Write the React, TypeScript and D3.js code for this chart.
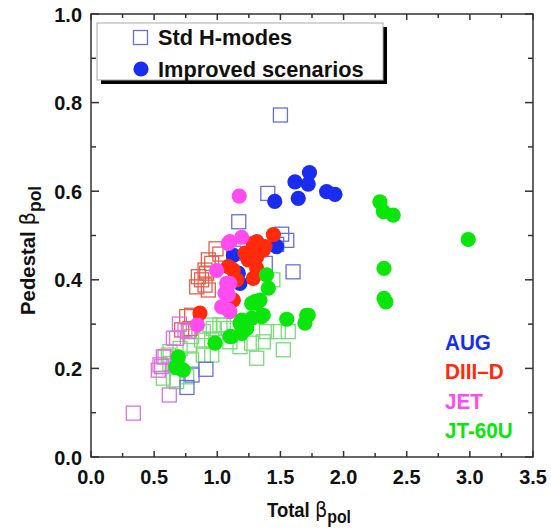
import React from 'react';
import * as d3 from 'd3';

// pedestal vs total beta_pol, per device, std H-modes (open squares) and improved scenarios (dots)
type Pt = [number, number];

const augStd: Pt[] = [
    [1.50, 0.772], [1.40, 0.595], [1.17, 0.531], [1.51, 0.503], [1.55, 0.489], [1.60, 0.418],
    [1.38, 0.437], [1.13, 0.46], [1.47, 0.48], [0.91, 0.198], [0.80, 0.185], [0.76, 0.157],
];
const augImp: Pt[] = [
    [1.73, 0.642], [1.615, 0.621], [1.72, 0.616], [1.866, 0.599], [1.932, 0.593], [1.641, 0.584],
    [1.455, 0.577], [1.47, 0.475], [1.127, 0.455], [1.166, 0.415], [1.18, 0.392],
];
const d3dStd: Pt[] = [
    [1.02, 0.458], [0.956, 0.437], [0.929, 0.445], [0.903, 0.422], [0.916, 0.415], [0.876, 0.40],
    [0.85, 0.407], [0.903, 0.388], [0.837, 0.384], [0.929, 0.377], [0.797, 0.32], [0.784, 0.29],
    [0.718, 0.287], [0.758, 0.317], [0.99, 0.47],
];
const d3dImp: Pt[] = [
    [1.444, 0.502], [1.312, 0.486], [1.364, 0.467], [1.245, 0.445], [1.312, 0.426], [1.087, 0.43],
    [1.154, 0.40], [1.285, 0.403], [1.127, 0.354], [0.863, 0.325], [1.285, 0.482], [1.312, 0.452],
    [1.127, 0.422], [1.378, 0.475], [1.22, 0.46],
];
const jetStd: Pt[] = [
    [0.678, 0.268], [0.586, 0.226], [0.56, 0.204], [0.546, 0.208], [0.62, 0.14], [0.335, 0.099],
    [0.573, 0.226], [0.652, 0.268], [0.744, 0.287], [0.77, 0.283], [0.533, 0.196], [0.70, 0.30],
];
const jetImp: Pt[] = [
    [1.174, 0.589], [1.087, 0.482], [1.193, 0.496], [1.10, 0.486], [0.995, 0.421], [1.10, 0.392],
    [1.074, 0.392], [1.087, 0.366], [1.061, 0.37], [1.035, 0.339], [1.10, 0.328], [1.087, 0.332],
    [0.842, 0.298],
];
const jtStd: Pt[] = [
    [0.968, 0.29], [0.889, 0.283], [0.956, 0.264], [0.876, 0.264], [0.784, 0.253], [0.705, 0.245],
    [0.626, 0.238], [0.612, 0.23], [0.625, 0.211], [0.573, 0.178], [0.652, 0.174], [0.678, 0.17],
    [0.758, 0.181], [0.797, 0.219], [0.797, 0.272], [0.942, 0.298], [1.021, 0.298], [1.087, 0.29],
    [1.312, 0.223], [1.523, 0.242], [1.562, 0.283], [1.483, 0.283], [1.39, 0.283], [1.364, 0.26],
    [1.10, 0.26], [0.889, 0.23], [0.956, 0.23], [1.048, 0.298], [1.272, 0.257], [1.18, 0.249],
    [1.44, 0.40],
];
const jtImp: Pt[] = [
    [2.288, 0.576], [2.315, 0.554], [2.393, 0.546], [2.987, 0.491], [2.32, 0.426], [2.32, 0.358],
    [2.335, 0.35], [1.72, 0.32], [1.55, 0.311], [1.39, 0.411], [1.404, 0.381], [1.338, 0.354],
    [1.272, 0.347], [1.364, 0.32], [1.272, 0.313], [1.193, 0.309], [1.708, 0.32], [1.694, 0.302],
    [1.114, 0.272], [0.982, 0.257], [0.691, 0.226], [0.705, 0.2], [0.67, 0.203], [0.731, 0.196],
    [1.193, 0.279], [1.233, 0.29], [1.18, 0.302], [1.351, 0.317], [1.312, 0.347], [1.10, 0.272],
    [1.298, 0.351],
];

const xTicks = [0, 0.5, 1.0, 1.5, 2.0, 2.5, 3.0, 3.5];
const xMinor = [0.25, 0.75, 1.25, 1.75, 2.25, 2.75, 3.25];
const yTicks = [0, 0.2, 0.4, 0.6, 0.8, 1.0];
const yMinor = [0.1, 0.3, 0.5, 0.7, 0.9];

const devices = ['AUG', 'DIII\u2013D', 'JET', 'JT-60U'];
const deviceColors = ['#1a2cf0', '#ff2a0a', '#ff4cf0', '#0ae60a'];

const FONT = '"Liberation Sans", Arial, sans-serif';
const SYM = '"DejaVu Sans", sans-serif';

// condensed bold text (the original uses a narrow helvetica)
const NText = ({ x, y, sx = 0.9, rot = 0, anchor = 'start', size = 22, fill = '#111', children }: any) => (
    <text transform={`translate(${x},${y}) rotate(${rot}) scale(${sx},1)`} textAnchor={anchor}
        fontFamily={FONT} fontWeight="bold" fontSize={size} fill={fill}>{children}</text>
);

const App = () => {
    const width = 551;
    const height = 532;
    const margin = { top: 14, right: 18, bottom: 75, left: 91 };

    const x = d3.scaleLinear().domain([0, 3.5]).range([margin.left, width - margin.right]);
    const y = d3.scaleLinear().domain([0, 1]).range([height - margin.bottom, margin.top]);

    const x0 = x(0), x1 = x(3.5), y0 = y(0), y1 = y(1);
    const sq = 14;
    const r = 7.6;

    const squares = (data: Pt[], color: string, key: string) =>
        data.map((d, i) => (
            <rect key={key + i} x={x(d[0]) - sq / 2} y={y(d[1]) - sq / 2} width={sq} height={sq}
                fill="none" stroke={color} strokeWidth={1.3} />
        ));
    const dots = (data: Pt[], color: string, key: string) =>
        data.map((d, i) => <circle key={key + i} cx={x(d[0])} cy={y(d[1])} r={r} fill={color} />);

    const betaPol = (
        <>
            <tspan fontFamily={SYM} fontWeight="normal" fontSize={22}>β</tspan>
            <tspan fontSize={18} dy={6}>pol</tspan>
        </>
    );

    return (
        <svg width={width} height={height} style={{ position: 'absolute', left: 0, top: 0, background: '#fff' }}>
            {/* open squares first, dots on top */}
            <g>
                {squares(jtStd, '#78dc78', 'jts')}
                {squares(augStd, '#6670dc', 'as')}
                {squares(d3dStd, '#e2604c', 'ds')}
                {squares(jetStd, '#e070e0', 'js')}
            </g>
            <g>
                {dots(augImp, deviceColors[0], 'ai')}
                {dots(d3dImp, deviceColors[1], 'di')}
                {dots(jetImp, deviceColors[2], 'ji')}
                {dots(jtImp, deviceColors[3], 'ti')}
            </g>

            {/* frame + inward ticks on all sides */}
            <g stroke="#333" strokeWidth={1.5} fill="none">
                <rect x={x0} y={y1} width={x1 - x0} height={y0 - y1} />
                {xTicks.map(t => (
                    <g key={'xt' + t}>
                        <line x1={x(t)} x2={x(t)} y1={y0} y2={y0 - 6} />
                        <line x1={x(t)} x2={x(t)} y1={y1} y2={y1 + 6} />
                    </g>
                ))}
                {xMinor.map(t => (
                    <g key={'xm' + t}>
                        <line x1={x(t)} x2={x(t)} y1={y0} y2={y0 - 4} />
                        <line x1={x(t)} x2={x(t)} y1={y1} y2={y1 + 4} />
                    </g>
                ))}
                {yTicks.map(t => (
                    <g key={'yt' + t}>
                        <line x1={x0} x2={x0 + 8} y1={y(t)} y2={y(t)} />
                        <line x1={x1} x2={x1 - 8} y1={y(t)} y2={y(t)} />
                    </g>
                ))}
                {yMinor.map(t => (
                    <g key={'ym' + t}>
                        <line x1={x0} x2={x0 + 5} y1={y(t)} y2={y(t)} />
                        <line x1={x1} x2={x1 - 5} y1={y(t)} y2={y(t)} />
                    </g>
                ))}
            </g>

            {/* tick labels */}
            {xTicks.map(t => (
                <NText key={'xl' + t} x={x(t)} y={y0 + 27} anchor="middle" size={21} sx={0.95}>{t.toFixed(1)}</NText>
            ))}
            {yTicks.map(t => (
                <NText key={'yl' + t} x={x0 - 9} y={y(t) + 7.5} anchor="end" size={21} sx={0.95}>{t.toFixed(1)}</NText>
            ))}

            {/* axis titles */}
            <NText x={267} y={517} size={21} sx={0.88}>Total {betaPol}</NText>
            <NText x={35} y={315} rot={-90} size={21} sx={0.97}>Pedestal {betaPol}</NText>

            {/* marker legend with drop shadow */}
            <g>
                <rect x={101} y={27} width={286} height={57} fill="#000" />
                <rect x={97} y={23} width={286} height={57} fill="#fff" stroke="#aaa" strokeWidth={1} />
                <rect x={133.5} y={30.5} width={14} height={14} fill="none" stroke="#6670dc" strokeWidth={1.3} />
                <circle cx={141} cy={69} r={7.6} fill={deviceColors[0]} />
                <NText x={158} y={45} size={22} sx={0.99}>Std H-modes</NText>
                <NText x={158} y={77} size={22} sx={0.99}>Improved scenarios</NText>
            </g>

            {/* device legend */}
            {devices.map((d, i) => (
                <NText key={d} x={445} y={350 + i * 29.3} size={22} sx={0.94} fill={deviceColors[i]}>{d}</NText>
            ))}
        </svg>
    );
};

export default App;
